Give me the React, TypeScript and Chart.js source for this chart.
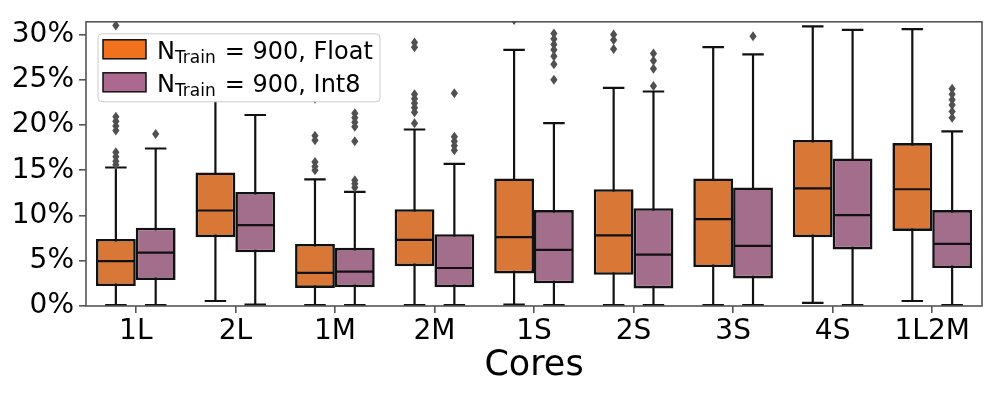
import React, { useEffect, useRef } from 'react';
import { Chart, registerables } from 'chart.js';

Chart.register(...registerables);

const categories = ['1L', '2L', '1M', '2M', '1S', '2S', '3S', '4S', '1L2M'];
const yTicks = [0, 5, 10, 15, 20, 25, 30];

// Float series (percent)
const floatLow = [0.1, 0.55, 0.1, 0.1, 0.15, 0.1, 0.1, 0.35, 0.55];
const floatQ1 = [2.2, 7.6, 2.0, 4.4, 3.6, 3.45, 4.3, 7.6, 8.3];
const floatMedian = [4.95, 10.55, 3.65, 7.3, 7.6, 7.8, 9.6, 13.0, 12.9];
const floatQ3 = [7.4, 14.75, 6.85, 10.7, 14.1, 12.9, 14.1, 18.35, 18.0];
const floatHigh = [15.3, 26.0, 14.0, 19.5, 28.3, 24.1, 28.6, 30.9, 30.6];
const floatOutliers = [
  [31.0, 20.9, 20.4, 19.9, 19.4, 17.0, 16.5, 16.0, 15.6],
  [],
  [22.9, 18.8, 18.3, 15.9, 15.4, 15.0],
  [29.1, 28.6, 23.4, 22.9, 22.4, 21.9, 21.4, 20.2],
  [31.6],
  [30.0, 29.4, 28.4],
  [],
  [],
  [],
];

// Int8 series (percent)
const int8Low = [0.1, 0.15, 0.1, 0.1, 0.1, 0.1, 0.1, 0.1, 0.1];
const int8Q1 = [2.87, 5.93, 2.08, 2.08, 2.5, 1.94, 3.05, 6.25, 4.2];
const int8Median = [5.9, 8.94, 3.8, 4.2, 6.2, 5.68, 6.65, 10.05, 6.86];
const int8Q3 = [8.65, 12.6, 6.43, 7.94, 10.6, 10.8, 13.1, 16.3, 10.6];
const int8High = [17.4, 21.1, 12.6, 15.7, 20.2, 23.7, 27.8, 30.5, 19.3];
const int8Outliers = [
  [19.0],
  [],
  [21.3, 20.8, 20.3, 19.8, 18.2, 13.9, 13.5, 13.1],
  [23.5, 18.7, 18.2, 17.7, 17.2],
  [30.1, 29.5, 28.9, 28.3, 27.6, 26.7, 25.0],
  [27.9, 27.1, 26.2, 24.3],
  [29.8],
  [],
  [24.0, 23.4, 22.8, 22.2, 21.5, 20.8],
];

const legendLabels = ['Float', 'Int8'];

const FLOAT_BOX = '#d87736';
const INT8_BOX = '#a36e8c';
const FLOAT_SWATCH = '#f2711c';
const INT8_SWATCH = '#ad688f';
const LINE = '#111111';
const FLIER = '#505050';
const SPINE = '#555555';
const FONT = "'DejaVu Sans', sans-serif";

const stats = [
  { low: floatLow, med: floatMedian, high: floatHigh, out: floatOutliers },
  { low: int8Low, med: int8Median, high: int8High, out: int8Outliers },
];

const boxPlugin = {
  id: 'boxExtras',
  beforeDatasetsDraw(chart: any) {
    const { ctx, chartArea } = chart;
    const y = chart.scales.y;
    ctx.save();
    ctx.beginPath();
    ctx.rect(chartArea.left, chartArea.top, chartArea.right - chartArea.left, chartArea.bottom - chartArea.top);
    ctx.clip();
    ctx.strokeStyle = LINE;
    ctx.lineWidth = 2.2;
    stats.forEach((s, di) => {
      const meta = chart.getDatasetMeta(di);
      meta.data.forEach((bar: any, i: number) => {
        const { x, width } = bar.getProps(['x', 'width'], true);
        const cap = width * 0.27;
        const yLow = y.getPixelForValue(s.low[i]);
        const yHigh = y.getPixelForValue(s.high[i]);
        const yMed = y.getPixelForValue(s.med[i]);
        ctx.beginPath();
        ctx.moveTo(x, yMed);
        ctx.lineTo(x, yHigh);
        ctx.moveTo(x - cap, yHigh);
        ctx.lineTo(x + cap, yHigh);
        ctx.moveTo(x, yMed);
        ctx.lineTo(x, yLow);
        ctx.moveTo(x - cap, yLow);
        ctx.lineTo(x + cap, yLow);
        ctx.stroke();
      });
    });
    ctx.restore();
  },
  afterDatasetsDraw(chart: any) {
    const { ctx, chartArea } = chart;
    const y = chart.scales.y;
    ctx.save();
    ctx.beginPath();
    ctx.rect(chartArea.left, chartArea.top, chartArea.right - chartArea.left, chartArea.bottom - chartArea.top);
    ctx.clip();
    stats.forEach((s, di) => {
      const meta = chart.getDatasetMeta(di);
      meta.data.forEach((bar: any, i: number) => {
        const { x, width } = bar.getProps(['x', 'width'], true);
        const yMed = y.getPixelForValue(s.med[i]);
        ctx.strokeStyle = LINE;
        ctx.lineWidth = 2.2;
        ctx.beginPath();
        ctx.moveTo(x - width / 2 + 1, yMed);
        ctx.lineTo(x + width / 2 - 1, yMed);
        ctx.stroke();
        ctx.fillStyle = FLIER;
        s.out[i].forEach((v: number) => {
          const py = y.getPixelForValue(v);
          ctx.beginPath();
          ctx.moveTo(x, py - 5);
          ctx.lineTo(x + 3.6, py);
          ctx.lineTo(x, py + 5);
          ctx.lineTo(x - 3.6, py);
          ctx.closePath();
          ctx.fill();
        });
      });
    });
    ctx.restore();

    // spines
    ctx.save();
    ctx.strokeStyle = SPINE;
    ctx.lineWidth = 1.6;
    ctx.strokeRect(chartArea.left, chartArea.top, chartArea.right - chartArea.left, chartArea.bottom - chartArea.top);
    ctx.restore();

    // legend
    ctx.save();
    const lx = chartArea.left + 12;
    const ly = chartArea.top + 12;
    const lw = 282;
    const lh = 68;
    ctx.beginPath();
    if ((ctx as any).roundRect) (ctx as any).roundRect(lx, ly, lw, lh, 4);
    else ctx.rect(lx, ly, lw, lh);
    ctx.fillStyle = '#ffffff';
    ctx.fill();
    ctx.strokeStyle = '#cccccc';
    ctx.lineWidth = 1;
    ctx.stroke();
    const swatches = [FLOAT_SWATCH, INT8_SWATCH];
    legendLabels.forEach((lab, k) => {
      const rowTop = ly + 6 + k * 33;
      ctx.fillStyle = swatches[k];
      ctx.fillRect(lx + 5, rowTop, 43, 19);
      ctx.strokeStyle = LINE;
      ctx.lineWidth = 1.5;
      ctx.strokeRect(lx + 5, rowTop, 43, 19);
      const base = rowTop + 19;
      ctx.fillStyle = '#000';
      ctx.textBaseline = 'alphabetic';
      ctx.textAlign = 'left';
      let tx = lx + 59;
      ctx.font = `24px ${FONT}`;
      ctx.fillText('N', tx, base);
      tx += ctx.measureText('N').width;
      ctx.font = `17px ${FONT}`;
      ctx.fillText('Train', tx, base + 4);
      tx += ctx.measureText('Train').width + 9;
      ctx.font = `24px ${FONT}`;
      ctx.fillText('= 900, ' + lab, tx, base);
    });
    ctx.restore();
  },
};

export default function App() {
  const ref = useRef<HTMLCanvasElement | null>(null);
  useEffect(() => {
    document.body.style.margin = '0';
    if (!ref.current) return;
    const chart = new Chart(ref.current, {
      type: 'bar',
      data: {
        labels: categories,
        datasets: [
          {
            label: legendLabels[0],
            data: floatQ1.map((q, i) => [q, floatQ3[i]]) as any,
            backgroundColor: FLOAT_BOX,
            borderColor: LINE,
            borderWidth: 2.6,
            borderSkipped: false,
            categoryPercentage: 0.8,
            barPercentage: 1.0,
          },
          {
            label: legendLabels[1],
            data: int8Q1.map((q, i) => [q, int8Q3[i]]) as any,
            backgroundColor: INT8_BOX,
            borderColor: LINE,
            borderWidth: 2.6,
            borderSkipped: false,
            categoryPercentage: 0.8,
            barPercentage: 1.0,
          },
        ],
      },
      options: {
        responsive: false,
        animation: false,
        maintainAspectRatio: false,
        layout: { padding: { top: 15, right: 14, bottom: 0, left: 0 } },
        plugins: { legend: { display: false }, tooltip: { enabled: false } },
        scales: {
          x: {
            offset: true,
            grid: { offset: false, drawOnChartArea: false, drawTicks: true, tickLength: 7, color: SPINE, lineWidth: 1.6 },
            border: { display: false },
            ticks: { color: '#000', font: { family: FONT, size: 28 }, padding: 2, maxRotation: 0, autoSkip: false },
            title: { display: true, text: 'Cores', color: '#000', font: { family: FONT, size: 35 }, padding: { top: 0, bottom: 12 } },
            afterFit: (s: any) => { s.height = 93; },
          },
          y: {
            min: 0,
            max: 31.4,
            grid: { drawOnChartArea: false, drawTicks: true, tickLength: 7, color: SPINE, lineWidth: 1.6 },
            border: { display: false },
            afterBuildTicks: (s: any) => { s.ticks = yTicks.map((v) => ({ value: v })); },
            ticks: {
              color: '#000',
              font: { family: FONT, size: 28 },
              padding: 5,
              callback: (v: any) => `${v}%`,
            },
            afterFit: (s: any) => { s.width = 86; },
          },
        },
      },
      plugins: [boxPlugin],
    });
    return () => chart.destroy();
  }, []);
  return (
    <div style={{ position: 'absolute', left: 0, top: 0, width: 996, height: 399 }}>
      <canvas ref={ref} width={996} height={399} style={{ width: 996, height: 399 }} />
    </div>
  );
}
